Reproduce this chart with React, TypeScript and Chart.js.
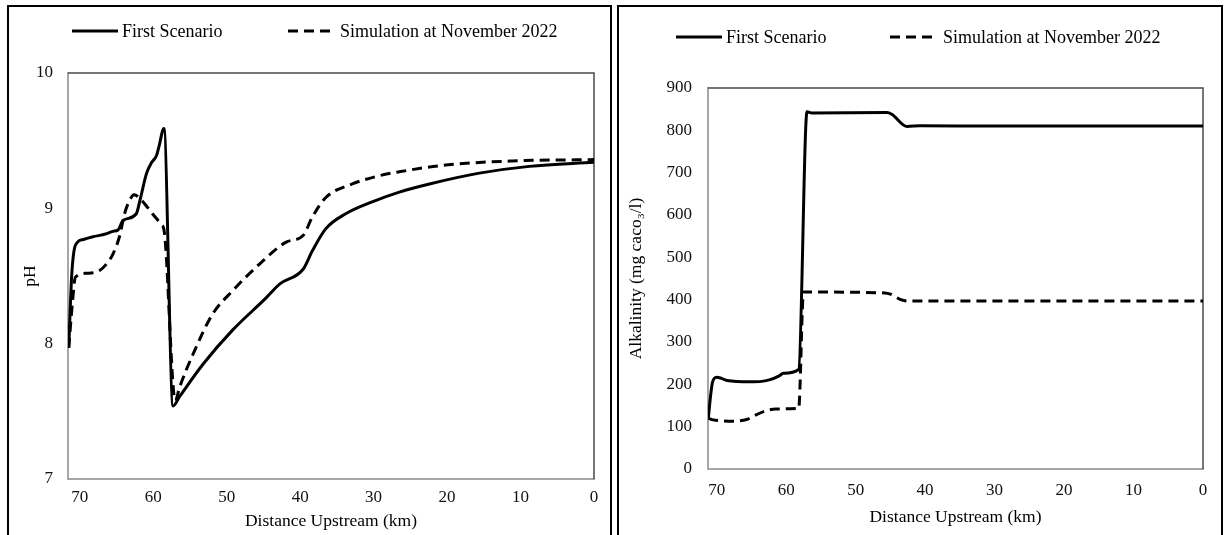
import React, { useEffect, useRef } from "react";
import { Chart, registerables } from "chart.js";

Chart.register(...registerables);

// ---------- data ----------
const xTicks = [0, 10, 20, 30, 40, 50, 60, 70];
const phTicks = [7, 8, 9, 10];
const alkTicks = [0, 100, 200, 300, 400, 500, 600, 700, 800, 900];

const seriesNames = ["First Scenario", "Simulation at November 2022"];

// pH panel
const phFirstKm = [71.5, 71.1, 70.8, 70.3, 69.5, 68.2, 66.5, 65.5, 64.8, 64.1, 62.3, 61.8, 60.9, 60.2, 59.55, 59.2, 58.55, 57.3, 56.4, 53.2, 49.2, 44.6, 42.8, 39.6, 38.3, 36.5, 33.8, 30.1, 26.5, 22.4, 15.6, 8.8, 0];
const phFirstVal = [7.97, 8.5, 8.68, 8.75, 8.77, 8.79, 8.81, 8.83, 8.84, 8.91, 8.96, 9.06, 9.26, 9.34, 9.39, 9.46, 9.59, 7.54, 7.61, 7.85, 8.10, 8.34, 8.44, 8.55, 8.69, 8.85, 8.96, 9.05, 9.12, 9.18, 9.26, 9.31, 9.34];

const phSimKm = [71.5, 71.0, 70.6, 69.1, 67.3, 66.2, 65.5, 64.6, 63.9, 63.3, 62.6, 61.6, 60.1, 58.9, 58.5, 57.0, 56.4, 54.6, 51.9, 49.2, 45.5, 41.9, 39.6, 38.3, 36.5, 32.9, 29.3, 26.5, 20.2, 11.1, 0];
const phSimVal = [7.97, 8.3, 8.49, 8.52, 8.54, 8.6, 8.66, 8.79, 8.96, 9.05, 9.10, 9.06, 8.96, 8.88, 8.83, 7.58, 7.68, 7.92, 8.22, 8.39, 8.59, 8.75, 8.80, 8.94, 9.08, 9.18, 9.24, 9.27, 9.32, 9.35, 9.36];

// Alkalinity panel
const alkFirstKm = [71.2, 70.9, 70.6, 70.0, 69.3, 68.5, 65.2, 63.5, 62.3, 61.0, 60.4, 58.2, 57.0, 56.3, 45.5, 44.8, 42.6, 40.7, 30, 20, 10, 0];
const alkFirstVal = [120, 170, 205, 217, 214, 209, 206, 207, 211, 220, 226, 235, 844, 841, 842, 838, 809, 811, 810, 810, 810, 810];

const alkSimKm = [71.2, 70.5, 69.5, 67.5, 66.6, 65.5, 64.7, 62.8, 61.5, 58.2, 57.5, 56.8, 45.8, 45.0, 43.5, 42.6, 30, 20, 10, 0];
const alkSimVal = [120, 116, 114, 113, 114, 118, 125, 138, 142, 143, 418, 418, 416, 413, 400, 397, 397, 397, 397, 397];

// ---------- styling ----------
const FONT = "'Liberation Serif', 'Times New Roman', serif";
const FS = 17;
const LEGEND_FS = 18;

const toPoints = (xs: number[], ys: number[]) => xs.map((x, i) => ({ x, y: ys[i] }));

const lineLegend = {
  id: "lineLegend",
  afterDraw(chart: any, _args: any, opts: any) {
    const ctx = chart.ctx;
    chart.data.datasets.forEach((ds: any, i: number) => {
      const it = opts.items[i];
      ctx.save();
      ctx.strokeStyle = ds.borderColor;
      ctx.lineWidth = ds.borderWidth;
      ctx.lineCap = "butt";
      ctx.setLineDash(ds.borderDash || []);
      ctx.beginPath();
      ctx.moveTo(it.x0, opts.y);
      ctx.lineTo(it.x1, opts.y);
      ctx.stroke();
      ctx.setLineDash([]);
      ctx.fillStyle = "#000";
      ctx.font = `${LEGEND_FS}px ${FONT}`;
      ctx.textBaseline = "middle";
      ctx.textAlign = "left";
      ctx.fillText(ds.label, it.textX, opts.y + 1);
      ctx.restore();
    });
  },
};

const frame = {
  id: "frame",
  beforeDatasetsDraw(chart: any) {
    const { ctx, chartArea } = chart;
    const { left, top, right, bottom } = chartArea;
    ctx.save();
    ctx.strokeStyle = "#4a4a4a";
    ctx.lineWidth = 1.5;
    ctx.beginPath();
    ctx.moveTo(left, top);
    ctx.lineTo(right, top);
    ctx.lineTo(right, bottom);
    ctx.stroke();
    ctx.restore();
  },
};

type PanelCfg = {
  first: { x: number; y: number }[];
  sim: { x: number; y: number }[];
  xMax: number;
  yMin: number;
  yMax: number;
  yTicks: number[];
  yTitle: string;
  yTitlePad: number;
  yAxisWidth: number;
  yTickPad: number;
  xAxisHeight: number;
  xTickPad: number;
  xTitlePad: number;
  padTop: number;
  padRight: number;
  legendY: number;
  legendItems: { x0: number; x1: number; textX: number }[];
};

function Panel({ cfg, left }: { cfg: PanelCfg; left: number }) {
  const ref = useRef<HTMLCanvasElement | null>(null);
  useEffect(() => {
    if (!ref.current) return;
    const tickFont = { family: FONT, size: FS };
    const chart = new Chart(ref.current, {
      type: "scatter",
      data: {
        datasets: [
          {
            label: seriesNames[0],
            data: cfg.first,
            showLine: true,
            borderColor: "#000",
            borderWidth: 3,
            pointRadius: 0,
            cubicInterpolationMode: "monotone",
            fill: false,
          },
          {
            label: seriesNames[1],
            data: cfg.sim,
            showLine: true,
            borderColor: "#000",
            borderWidth: 3,
            borderDash: [10, 6],
            pointRadius: 0,
            cubicInterpolationMode: "monotone",
            fill: false,
          },
        ],
      } as any,
      options: {
        animation: false,
        responsive: false,
        events: [],
        layout: { padding: { top: cfg.padTop, right: cfg.padRight, left: 0, bottom: 0 } },
        plugins: {
          legend: { display: false },
          tooltip: { enabled: false },
          lineLegend: { y: cfg.legendY, items: cfg.legendItems },
        } as any,
        scales: {
          x: {
            type: "linear",
            reverse: true,
            min: 0,
            max: cfg.xMax,
            afterBuildTicks: (s: any) => {
              s.ticks = xTicks.map((v) => ({ value: v }));
            },
            afterFit: (s: any) => {
              s.height = cfg.xAxisHeight;
            },
            grid: { display: false, drawTicks: false },
            border: { display: true, color: "#a6a6a6", width: 2 },
            ticks: { color: "#111", font: tickFont, padding: cfg.xTickPad, maxRotation: 0, autoSkip: false },
            title: {
              display: true,
              text: "Distance Upstream (km)",
              color: "#000",
              font: { family: FONT, size: 17.5 },
              padding: { top: 0, bottom: cfg.xTitlePad },
            },
          },
          y: {
            type: "linear",
            min: cfg.yMin,
            max: cfg.yMax,
            afterBuildTicks: (s: any) => {
              s.ticks = cfg.yTicks.map((v) => ({ value: v }));
            },
            afterFit: (s: any) => {
              s.width = cfg.yAxisWidth;
            },
            grid: { display: false, drawTicks: false },
            border: { display: true, color: "#a6a6a6", width: 2 },
            ticks: { color: "#111", font: tickFont, padding: cfg.yTickPad },
            title: {
              display: true,
              text: cfg.yTitle,
              color: "#000",
              font: { family: FONT, size: 17.5 },
              padding: { top: cfg.yTitlePad, bottom: 0 },
            },
          },
        },
      } as any,
      plugins: [frame, lineLegend] as any,
    });
    return () => chart.destroy();
  }, []);
  return (
    <canvas
      ref={ref}
      width={612}
      height={535}
      style={{ position: "absolute", left, top: 0, width: 612, height: 535 }}
    />
  );
}

const phCfg: PanelCfg = {
  first: toPoints(phFirstKm, phFirstVal),
  sim: toPoints(phSimKm, phSimVal),
  xMax: 71.6,
  yMin: 7,
  yMax: 10,
  yTicks: phTicks,
  yTitle: "pH",
  yTitlePad: 20,
  yAxisWidth: 68,
  yTickPad: 15,
  xAxisHeight: 56,
  xTickPad: 8,
  xTitlePad: 3,
  padTop: 73,
  padRight: 18,
  legendY: 31,
  legendItems: [
    { x0: 72, x1: 118, textX: 122 },
    { x0: 288, x1: 336, textX: 340 },
  ],
};

const alkCfg: PanelCfg = {
  first: toPoints(alkFirstKm, alkFirstVal),
  sim: toPoints(alkSimKm, alkSimVal),
  xMax: 71.25,
  yMin: 0,
  yMax: 900,
  yTicks: alkTicks,
  yTitle: "Alkalinity (mg caco\u2083/l)",
  yTitlePad: 14,
  yAxisWidth: 96,
  yTickPad: 16,
  xAxisHeight: 66,
  xTickPad: 11,
  xTitlePad: 7,
  padTop: 88,
  padRight: 21,
  legendY: 37,
  legendItems: [
    { x0: 64, x1: 110, textX: 114 },
    { x0: 278, x1: 326, textX: 331 },
  ],
};

export default function App() {
  return (
    <div
      style={{
        position: "fixed",
        left: 0,
        top: 0,
        width: 1224,
        height: 535,
        overflow: "hidden",
        background: "#fff",
      }}
    >
      <div
        style={{
          position: "absolute",
          left: 7,
          top: 5,
          width: 605,
          height: 620,
          border: "2px solid #000",
          boxSizing: "border-box",
        }}
      />
      <div
        style={{
          position: "absolute",
          left: 617,
          top: 5,
          width: 606,
          height: 620,
          border: "2px solid #000",
          boxSizing: "border-box",
        }}
      />
      <Panel cfg={phCfg} left={0} />
      <Panel cfg={alkCfg} left={612} />
    </div>
  );
}
